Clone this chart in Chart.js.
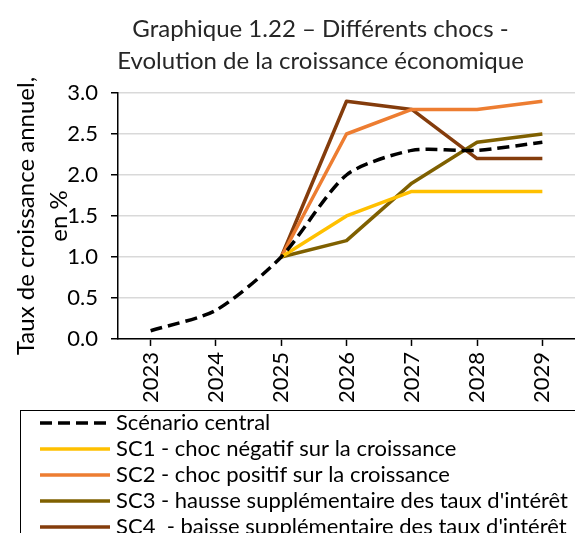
<!DOCTYPE html>
<html>
<head>
<meta charset="utf-8">
<script src="https://cdn.jsdelivr.net/npm/chart.js@4"></script>
<style>
    html, body { margin: 0; padding: 0; overflow: hidden; background: #fff; }
    #cadre { width: 575px; height: 560px; }
</style>
</head>
<body>
<div id="cadre"><canvas id="graphique"></canvas></div>
<script>
// Données
const annees = ['2023', '2024', '2025', '2026', '2027', '2028', '2029'];
const scenarioCentral = [0.1, 0.35, 1.0, 2.0, 2.3, 2.3, 2.4];
const sc1 = [null, null, 1.0, 1.5, 1.8, 1.8, 1.8];
const sc2 = [null, null, 1.0, 2.5, 2.8, 2.8, 2.9];
const sc3 = [null, null, 1.0, 1.2, 1.9, 2.4, 2.5];
const sc4 = [null, null, 1.0, 2.9, 2.8, 2.2, 2.2];
const yTicks = [0, 0.5, 1.0, 1.5, 2.0, 2.5, 3.0];

const titreLignes = ['Graphique 1.22 \u2013 Différents chocs -', 'Evolution de la croissance économique'];
const titreAxeY = ['Taux de croissance annuel,', 'en %'];
const libelles = [
    'Scénario central',
    'SC1 - choc négatif sur la croissance',
    'SC2 - choc positif sur la croissance',
    "SC3 - hausse supplémentaire des taux d'intérêt",
    "SC4  - baisse supplémentaire des taux d'intérêt"
];

const police = 'Lato';

// Titre centré un peu à gauche du centre de la zone de tracé (comme dans Excel)
const titrePlugin = {
    id: 'titre',
    afterDraw(chart) {
        const ctx = chart.ctx;
        const cx = (chart.chartArea.left + chart.chartArea.right) / 2 - 26;
        ctx.save();
        ctx.font = '24px ' + police;
        ctx.fillStyle = '#262626';
        ctx.textAlign = 'center';
        ctx.textBaseline = 'middle';
        titreLignes.forEach((t, i) => ctx.fillText(t, cx, 29 + i * 32));
        ctx.restore();
    }
};

// Légende encadrée sous l'axe des abscisses
const legendePlugin = {
    id: 'legendeEncadree',
    afterDraw(chart) {
        const ctx = chart.ctx;
        const haut = chart.scales.x.bottom + 1;
        ctx.save();
        ctx.strokeStyle = '#000';
        ctx.lineWidth = 1;
        ctx.strokeRect(20.5, Math.round(haut) + 0.5, chart.width, 200);
        chart.data.datasets.forEach((ds, i) => {
            const y = haut + 13 + i * 26;
            ctx.beginPath();
            ctx.setLineDash(ds.borderDash || []);
            ctx.strokeStyle = ds.borderColor;
            ctx.lineWidth = ds.borderWidth;
            ctx.moveTo(40, y);
            ctx.lineTo(110, y);
            ctx.stroke();
            ctx.setLineDash([]);
            ctx.fillStyle = '#000';
            ctx.font = '22px ' + police;
            ctx.textBaseline = 'middle';
            ctx.fillText(ds.label, 116, y);
        });
        ctx.restore();
    }
};

const ctx = document.getElementById('graphique').getContext('2d');
const graphique = new Chart(ctx, {
    type: 'line',
    data: {
        labels: annees,
        datasets: [{
            label: libelles[0],
            data: scenarioCentral,
            borderColor: '#000000',
            borderDash: [12, 6],
            borderWidth: 3.5,
            tension: 0.25
        }, {
            label: libelles[1],
            data: sc1,
            borderColor: '#FFC000',
            borderWidth: 3.5
        }, {
            label: libelles[2],
            data: sc2,
            borderColor: '#ED7D31',
            borderWidth: 3.5
        }, {
            label: libelles[3],
            data: sc3,
            borderColor: '#7F6000',
            borderWidth: 3.5
        }, {
            label: libelles[4],
            data: sc4,
            borderColor: '#843C0C',
            borderWidth: 3.5
        }]
    },
    options: {
        responsive: true,
        maintainAspectRatio: false,
        animation: false,
        elements: {
            point: { radius: 0, hoverRadius: 0 },
            line: { borderCapStyle: 'butt', borderJoinStyle: 'round' }
        },
        layout: {
            padding: { top: 93, right: 0, bottom: 151, left: 9 }
        },
        scales: {
            x: {
                offset: true,
                grid: { drawOnChartArea: false, drawTicks: true, tickLength: 7, tickColor: '#000', tickWidth: 1.5 },
                border: { color: '#000', width: 1.5 },
                ticks: {
                    maxRotation: 90, minRotation: 90, padding: 6,
                    color: '#000',
                    font: { family: police, size: 22 }
                }
            },
            y: {
                min: 0,
                max: 3,
                afterBuildTicks: (axe) => { axe.ticks = yTicks.map(v => ({ value: v })); },
                afterFit: (axe) => { axe.width = 109; },
                grid: { color: '#d9d9d9', lineWidth: 1.5, tickLength: 7, tickColor: '#000', tickWidth: 1.5 },
                border: { color: '#000', width: 1.5 },
                ticks: {
                    padding: 13,
                    color: '#000',
                    font: { family: police, size: 22 },
                    callback: (v) => Number(v).toFixed(1)
                },
                title: {
                    display: true,
                    text: titreAxeY,
                    color: '#000',
                    font: { family: police, size: 24, lineHeight: 1.4 },
                    padding: { top: 0, bottom: 0 }
                }
            }
        },
        plugins: {
            legend: { display: false },
            title: { display: false },
            tooltip: { enabled: false }
        }
    },
    plugins: [titrePlugin, legendePlugin]
});
</script>
</body>
</html>
